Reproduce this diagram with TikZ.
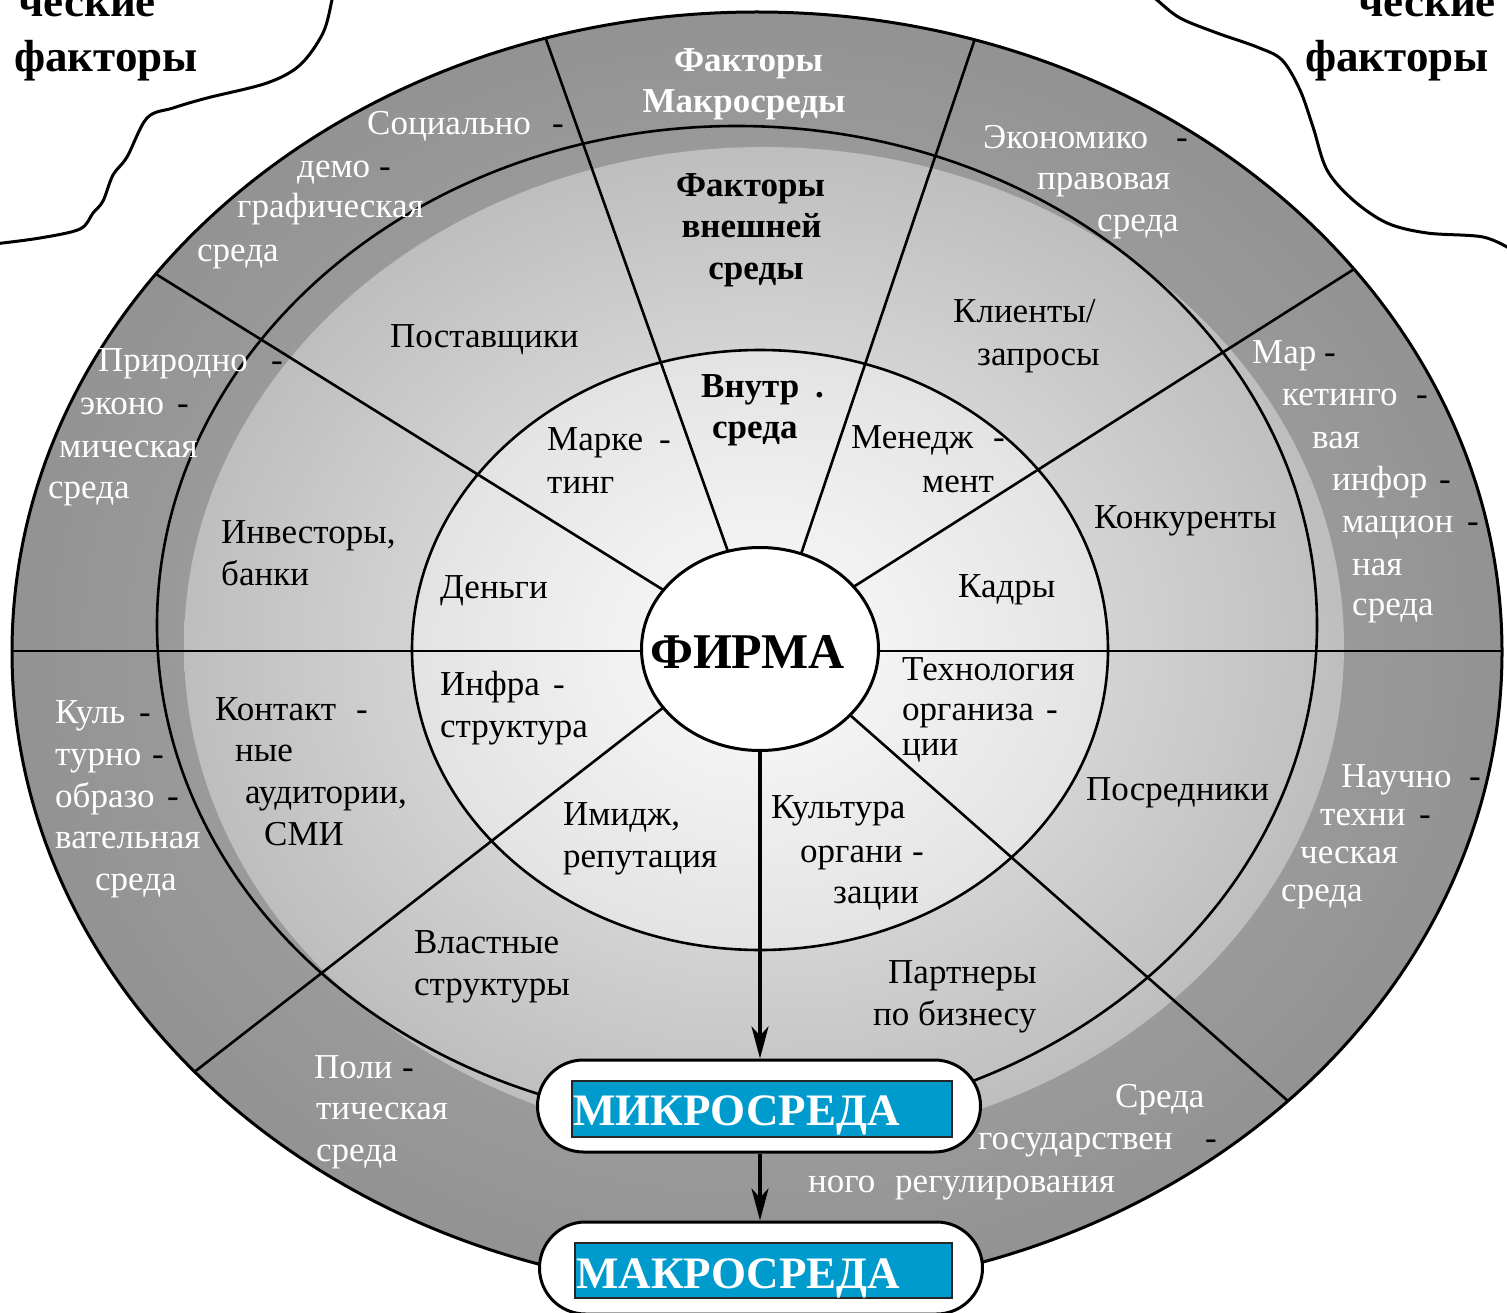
\documentclass[tikz,border=0pt]{standalone}
\usepackage{fontspec}
\setmainfont{Liberation Serif}
\usetikzlibrary{arrows.meta,shapes.geometric}
\definecolor{mblue}{RGB}{0,155,205}
\definecolor{oA}{gray}{0.70}
\definecolor{oB}{gray}{0.575}
\definecolor{lA}{gray}{0.95}
\definecolor{lB}{gray}{0.745}
\definecolor{iA}{gray}{0.985}
\definecolor{iB}{gray}{0.89}
\pgfdeclareradialshading{outershade}{\pgfpoint{0bp}{0bp}}{color(0bp)=(oA); color(25bp)=(oB); color(50bp)=(oB)}
\pgfdeclareradialshading{lightshade}{\pgfpoint{0bp}{0bp}}{color(0bp)=(lA); color(25bp)=(lB); color(50bp)=(lB)}
\pgfdeclareradialshading{innershade}{\pgfpoint{0bp}{0bp}}{color(0bp)=(iA); color(25bp)=(iB); color(50bp)=(iB)}
\tikzset{
  txt/.style={inner sep=0pt, anchor=base west, font=\fontsize{35}{42}\selectfont},
  wt/.style={txt, text=white},
  bt/.style={txt, text=black},
  dsh/.style={txt, text=black},
  bbt/.style={inner sep=0pt, anchor=base, font=\fontsize{35}{42}\selectfont\bfseries},
  cloudline/.style={line width=3pt, line join=round, line cap=round},
  ringline/.style={line width=2.6pt},
  spoke/.style={line width=2.6pt},
  pill/.style={draw, line width=3pt, fill=white, rounded corners=46pt, minimum width=443pt, minimum height=92pt, inner sep=0pt},
  bluebox/.style={draw=black!85, line width=2pt, fill=mblue, inner sep=0pt},
  bigw/.style={inner sep=0pt, anchor=base west, text=white, font=\fontsize{45}{50}\selectfont\bfseries},
  corner/.style={inner sep=0pt, font=\fontsize{45}{55}\selectfont\bfseries},
  arr/.style={line width=3.2pt, -{Stealth[length=32pt, width=17pt, inset=9pt]}}
}
\begin{document}
\begin{tikzpicture}[x=1pt,y=-1pt]
\useasboundingbox (0,0) rectangle (1507,1313);
\clip (0,0) rectangle (1507,1313);
% corner clouds
\draw[cloudline] plot[smooth, tension=0.55] coordinates {(-6,244) (40,238) (80,229) (93,213) (103,201) (113,175) (127,157) (147,118) (173,108) (207,98) (267,83) (300,65) (323,33) (332,0) (333,-6)};
\draw[cloudline] plot[smooth, tension=0.55] coordinates {(1150,-6) (1157,0) (1180,18) (1217,33) (1257,47) (1282,60) (1300,90) (1313,127) (1327,170) (1353,200) (1387,223) (1427,233) (1483,237) (1512,250)};
\node[corner, anchor=base west] (cl1) at (18,17) {ческие};
\node[corner, anchor=base west] (cl2) at (14,72) {факторы};
\node[corner, anchor=base west] (cr1) at (1358,17) {ческие};
\node[corner, anchor=base west] (cr2) at (1305,72) {факторы};
% fills
\shade[shading=outershade] (757,652) ellipse [x radius=745pt, y radius=640pt];
\shade[shading=lightshade] (764,646) ellipse [x radius=580pt, y radius=499pt];
\shade[shading=innershade] (760,650) ellipse [x radius=348pt, y radius=300pt];
% spokes
\begin{scope}
\clip (757,652) ellipse [x radius=745pt, y radius=640pt];
\coordinate (h1) at (0,651);
\coordinate (h2) at (1507,651);
\draw[spoke] (h1) -- (h2);
\coordinate (a1) at (673,596); \coordinate (b1) at (0,177);
\coordinate (a2) at (847,591); \coordinate (b2) at (1507,172);
\coordinate (a3) at (731,560); \coordinate (b3) at (532,0);
\coordinate (a4) at (799,560); \coordinate (b4) at (988,0);
\coordinate (a5) at (673,700); \coordinate (b5) at (0,1223);
\coordinate (a6) at (842,708); \coordinate (b6) at (1507,1294);
\draw[spoke] (a1) -- (b1);
\draw[spoke] (a2) -- (b2);
\draw[spoke] (a3) -- (b3);
\draw[spoke] (a4) -- (b4);
\draw[spoke] (a5) -- (b5);
\draw[spoke] (a6) -- (b6);
\end{scope}
% ring outlines
\draw[ringline] (737,625) ellipse [x radius=580pt, y radius=499pt];
\draw[ringline] (760,650) ellipse [x radius=348pt, y radius=300pt];
\draw[line width=3pt] (757,652) ellipse [x radius=745pt, y radius=640pt];
% firm
\node[draw, ellipse, line width=3pt, fill=white, minimum width=237pt, minimum height=203pt, inner sep=0pt] (firma) at (760,649) {};
\node[inner sep=0pt, anchor=base, font=\fontsize{50}{60}\selectfont\bfseries] (firmat) at (747.5,668) {ФИРМА};
% outer ring texts (white)
\node[wt] (o1) at (367,135) {Социально}; \node[dsh] (o1d) at (552,135) {-};
\node[wt] (o2) at (297,178) {демо}; \node[dsh] (o2d) at (379,178) {-};
\node[wt] (o3) at (237,218) {графическая};
\node[wt] (o4) at (197,262) {среда};
\node[wt] (o5) at (983,149) {Экономико}; \node[dsh] (o5d) at (1176,149) {-};
\node[wt] (o6) at (1037,190) {правовая};
\node[wt] (o7) at (1097,232) {среда};
\node[wt] (o8) at (98,372) {Природно}; \node[dsh] (o8d) at (271,372) {-};
\node[wt] (o9) at (80,414) {эконо}; \node[dsh] (o9d) at (177,414) {-};
\node[wt] (o10) at (59,457) {мическая};
\node[wt] (o11) at (48,498) {среда};
\node[wt] (o12) at (1252,363) {Мар}; \node[dsh] (o12d) at (1324,363) {-};
\node[wt] (o13) at (1282,405) {кетинго}; \node[dsh] (o13d) at (1416,405) {-};
\node[wt] (o14) at (1312,448) {вая};
\node[wt] (o15) at (1332,490) {инфор}; \node[dsh] (o15d) at (1439,490) {-};
\node[wt] (o16) at (1342,532) {мацион}; \node[dsh] (o16d) at (1467,532) {-};
\node[wt] (o17) at (1352,575) {ная};
\node[wt] (o18) at (1352,615) {среда};
\node[wt] (o19) at (55,723) {Куль}; \node[dsh] (o19d) at (139,723) {-};
\node[wt] (o20) at (55,765) {турно}; \node[dsh] (o20d) at (152,765) {-};
\node[wt] (o21) at (55,807) {образо}; \node[dsh] (o21d) at (167,807) {-};
\node[wt] (o22) at (55,848) {вательная};
\node[wt] (o23) at (95,890) {среда};
\node[wt] (o24) at (1341,787) {Научно}; \node[dsh] (o24d) at (1469,787) {-};
\node[wt] (o25) at (1320,825) {техни}; \node[dsh] (o25d) at (1419,825) {-};
\node[wt] (o26) at (1300,863) {ческая};
\node[wt] (o27) at (1281,901) {среда};
\node[wt] (o28) at (314,1078) {Поли}; \node[dsh] (o28d) at (402,1078) {-};
\node[wt] (o29) at (316,1119) {тическая};
\node[wt] (o30) at (316,1161) {среда};
\node[wt] (o31) at (1115,1107) {Среда};
\node[wt] (o32) at (978,1149) {государствен}; \node[dsh] (o32d) at (1205,1149) {-};
\node[wt] (o33) at (808,1192) {ного};
\node[wt] (o34) at (895,1192) {регулирования};
\node[bbt, text=white] (m1) at (748.5,72) {Факторы};
\node[bbt, text=white] (m2) at (744,113) {Макросреды};
% middle ring texts
\node[bbt] (f1) at (750.5,197) {Факторы};
\node[bbt] (f2) at (751.5,238) {внешней};
\node[bbt] (f3) at (756,280) {среды};
\node[bt] (l1) at (390,348) {Поставщики};
\node[bt] (l2) at (953,323) {Клиенты/};
\node[bt] (l3) at (977,366) {запросы};
\node[bt] (l4) at (221,543) {Инвесторы,};
\node[bt] (l5) at (221,585) {банки};
\node[bt] (l6) at (1094,528) {Конкуренты};
\node[bt] (l7) at (215,720) {Контакт}; \node[dsh] (l7d) at (356,720) {-};
\node[bt] (l8) at (235,761) {ные};
\node[bt] (l9) at (245,803) {аудитории,};
\node[bt] (l10) at (264,845) {СМИ};
\node[bt] (l11) at (1086,800) {Посредники};
\node[bt] (l12) at (414,953) {Властные};
\node[bt] (l13) at (414,995) {структуры};
\node[bt] (l14) at (888,983) {Партнеры};
\node[bt] (l15) at (873,1025) {по бизнесу};
% inner ring texts
\node[bt] (i1) at (547,450) {Марке}; \node[dsh] (i1d) at (659,450) {-};
\node[bt] (i2) at (547,493) {тинг};
\node[bt, font=\fontsize{35}{42}\selectfont\bfseries] (i3) at (701,397) {Внутр};
\node[bt, font=\fontsize{35}{42}\selectfont\bfseries] (i3d) at (815,397) {.};
\node[bt, font=\fontsize{35}{42}\selectfont\bfseries] (i4) at (712,438) {среда};
\node[bt] (i5) at (851,448) {Менедж}; \node[dsh] (i5d) at (993,448) {-};
\node[bt] (i6) at (922,492) {мент};
\node[bt] (i7) at (440,598) {Деньги};
\node[bt] (i8) at (958,597) {Кадры};
\node[bt] (i9) at (440,695) {Инфра}; \node[dsh] (i9d) at (553,695) {-};
\node[bt] (i10) at (440,737) {структура};
\node[bt] (i11) at (902,680) {Технология};
\node[bt] (i12) at (902,720) {организа}; \node[dsh] (i12d) at (1046,720) {-};
\node[bt] (i13) at (902,755) {ции};
\node[bt] (i14) at (563,825) {Имидж,};
\node[bt] (i15) at (563,867) {репутация};
\node[bt] (i16) at (771,818) {Культура};
\node[bt] (i17) at (800,862) {органи}; \node[dsh] (i17d) at (912,862) {-};
\node[bt] (i18) at (833,903) {зации};
% micro / macro
\node[pill] (mikro) at (759,1106) {};
\node[bluebox, minimum width=380pt, minimum height=56pt] (mikrob) at (762,1109) {};
\node[bigw] (mikrot) at (573,1125) {МИКРОСРЕДА};
\node[pill] (makro) at (761,1268) {};
\node[bluebox, minimum width=377pt, minimum height=55pt] (makrob) at (763.5,1270.5) {};
\node[bigw] (makrot) at (576,1288) {МАКРОСРЕДА};
\draw[arr] (firma.south) -- (firma.south |- mikro.north);
\draw[arr] (firma.south |- mikro.south) -- (firma.south |- makro.north);
\end{tikzpicture}
\end{document}
